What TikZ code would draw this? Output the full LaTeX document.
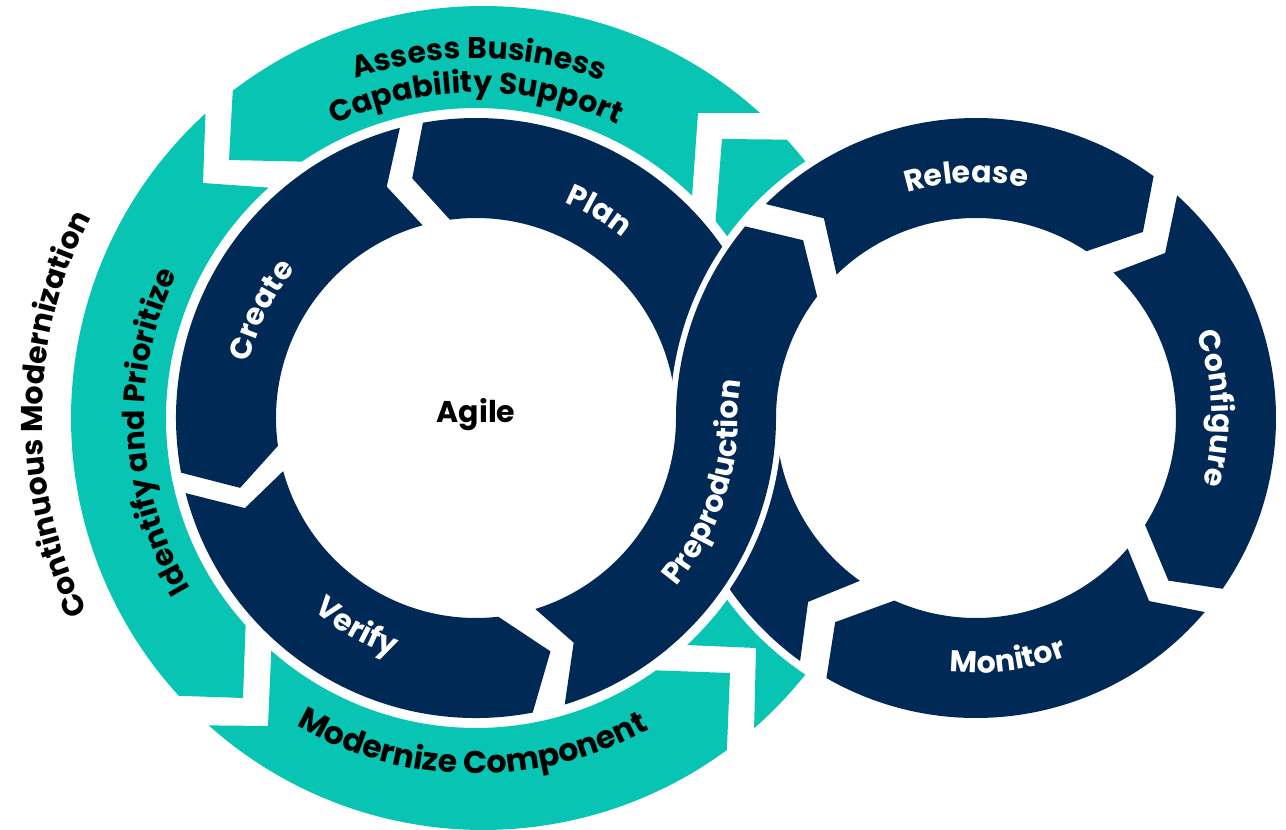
\documentclass[tikz,border=0pt]{standalone}
\usepackage{fontspec}
\setmainfont{Poppins}
\usetikzlibrary{calc,decorations.text}
\definecolor{navy}{HTML}{012956}
\definecolor{tealc}{HTML}{07C5B2}
\newcommand{\lblfont}{\fontsize{30}{30}\selectfont\bfseries}
\newcommand{\bigfont}{\fontsize{31.5}{31.5}\selectfont\bfseries}
\begin{document}
\begin{tikzpicture}[x=1pt,y=1pt,
  tealpiece/.style={fill=tealc},
  navypiece/.style={fill=navy},
  gapline/.style={draw=white, line width=12pt},
  blacklabel/.style={decorate, decoration={text along path, text align=center, text={|\lblfont|#1}}},
  bigblacklabel/.style={decorate, decoration={text along path, text align=center, text={|\bigfont|#1}}},
  whitelabel/.style={decorate, decoration={text along path, text align=center, text={|\lblfont\color{white}|#1}}}]
\useasboundingbox (0,0) rectangle (1286,830);
\coordinate (L) at (476,412);
\coordinate (R) at (976,412);
\coordinate (T) at (483,412);
% teal ring
\path[tealpiece] ($(T)+(47.76:412pt)$) arc[start angle=47.76, end angle=127.4, radius=412pt] -- (229,670) -- ($(L)+(124.2:310pt)$) arc[start angle=124.2, end angle=45.8, radius=310pt] -- (698,717) -- cycle;
\path[tealpiece] ($(T)+(132.35:412pt)$) arc[start angle=132.35, end angle=222.4, radius=412pt] -- (243,132) -- ($(L)+(222:310pt)$) arc[start angle=222, end angle=132, radius=310pt] -- (203,647) -- cycle;
\path[tealpiece] ($(T)+(228.26:412pt)$) arc[start angle=228.26, end angle=306.3, radius=412pt] -- (730,157) -- ($(L)+(305.5:310pt)$) arc[start angle=305.5, end angle=228.67, radius=310pt] -- (268,104) -- cycle;
\path[tealpiece] ($(T)+(311.15:412pt)$) arc[start angle=311.15, end angle=402.5, radius=412pt] -- (722,691) -- ($(L)+(39.4:310pt)$) arc[start angle=399.4, end angle=312.9, radius=310pt] -- (756,182) -- cycle;
% clearance around right loop
\fill[white] (R) circle[radius=308pt];
% left loop
\path[navypiece] ($(L)+(0:300pt)$) arc[start angle=0, end angle=100.2, radius=300pt] -- ($(L)+(104.9:248pt)$) -- ($(L)+(97.5:200pt)$) arc[start angle=97.5, end angle=0, radius=200pt] -- cycle;
\path[navypiece] ($(L)+(104.7:300pt)$) arc[start angle=104.7, end angle=190.5, radius=300pt] -- ($(L)+(196.5:246pt)$) -- ($(L)+(188:200pt)$) arc[start angle=188, end angle=105.5, radius=200pt] -- ($(L)+(111.1:248pt)$) -- cycle;
\path[navypiece] ($(L)+(194.5:300pt)$) arc[start angle=194.5, end angle=280.9, radius=300pt] -- ($(L)+(287.7:245pt)$) -- ($(L)+(276.4:200pt)$) arc[start angle=276.4, end angle=195.4, radius=200pt] -- ($(L)+(201.3:248pt)$) -- cycle;
% right loop
\path[navypiece] ($(R)+(134.5:300pt)$) arc[start angle=134.5, end angle=53.7, radius=300pt] -- ($(R)+(48.1:250pt)$) -- ($(R)+(56.5:200pt)$) arc[start angle=56.5, end angle=134.2, radius=200pt] -- ($(R)+(127.3:251pt)$) -- cycle;
\path[navypiece] ($(R)+(47.9:300pt)$) arc[start angle=47.9, end angle=-34.7, radius=300pt] -- ($(R)+(-40.2:252pt)$) -- ($(R)+(-32.3:200pt)$) arc[start angle=-32.3, end angle=46.6, radius=200pt] -- ($(R)+(41.1:251pt)$) -- cycle;
\path[navypiece] ($(R)+(-40.3:300pt)$) arc[start angle=-40.3, end angle=-119.9, radius=300pt] -- ($(R)+(-124.6:248pt)$) -- ($(R)+(-114.1:200pt)$) arc[start angle=-114.1, end angle=-40.7, radius=200pt] -- ($(R)+(-46.6:252pt)$) -- cycle;
\path[navypiece] ($(R)+(-125.9:300pt)$) arc[start angle=-125.9, end angle=-180, radius=300pt] -- ($(R)+(180:200pt)$) arc[start angle=-180, end angle=-125.5, radius=200pt] -- ($(R)+(-132.4:249pt)$) -- cycle;
% crossing band
\path[gapline] ($(L)+(-60:300pt)$) arc[start angle=-60, end angle=0, radius=300pt] arc[start angle=180, end angle=165, radius=200pt];
\path[gapline] ($(R)+(141:300pt)$) arc[start angle=141, end angle=180, radius=300pt] arc[start angle=0, end angle=-15, radius=200pt];
\path[navypiece] ($(L)+(287.25:200pt)$) -- ($(L)+(293.5:245pt)$) -- ($(L)+(287.2:300pt)$) arc[start angle=287.2, end angle=360, radius=300pt] arc[start angle=180, end angle=142.6, radius=200pt] -- ($(R)+(134.2:248pt)$) -- ($(R)+(140.3:300pt)$) arc[start angle=140.3, end angle=180, radius=300pt] arc[start angle=0, end angle=-72.75, radius=200pt] -- cycle;
% labels
\path[blacklabel={Assess Business}] ($(L)+(134.5:359.5pt)$) arc[start angle=134.5, end angle=44.5, radius=359.5pt];
\path[blacklabel={Capability Support}] ($(L)+(140:325.5pt)$) arc[start angle=140, end angle=40, radius=325.5pt];
\path[blacklabel={Identify and Prioritize}] ($(L)+(222.5:332pt)$) arc[start angle=222.5, end angle=142.5, radius=332pt];
\path[bigblacklabel={Modernize Component}] ($(L)+(229.4:356pt)$) arc[start angle=229.4, end angle=309.4, radius=356pt];
\path[blacklabel={Continuous Modernization}] ($(L)+(219.5:434pt)$) arc[start angle=219.5, end angle=139.5, radius=434pt];
\path[whitelabel={Plan}] ($(L)+(89.2:232.5pt)$) arc[start angle=89.2, end angle=29.2, radius=232.5pt];
\path[whitelabel={Create}] ($(L)+(183.4:234pt)$) arc[start angle=183.4, end angle=123.4, radius=234pt];
\path[whitelabel={Verify}] ($(L)+(210.3:252pt)$) arc[start angle=210.3, end angle=270.3, radius=252pt];
\path[whitelabel={Preproduction}] ($(L)+(-50:262pt)$) arc[start angle=-50, end angle=0, radius=262pt] arc[start angle=180, end angle=160, radius=238pt];
\path[whitelabel={Release}] ($(R)+(122.3:235.5pt)$) arc[start angle=122.3, end angle=62.3, radius=235.5pt];
\path[whitelabel={Configure}] ($(R)+(37.35:236pt)$) arc[start angle=37.35, end angle=-32.65, radius=236pt];
\path[whitelabel={Monitor}] ($(R)+(-112.5:255pt)$) arc[start angle=-112.5, end angle=-52.5, radius=255pt];
\node[font=\lblfont] (agile) at (476,415) {Agile};
\end{tikzpicture}
\end{document}
